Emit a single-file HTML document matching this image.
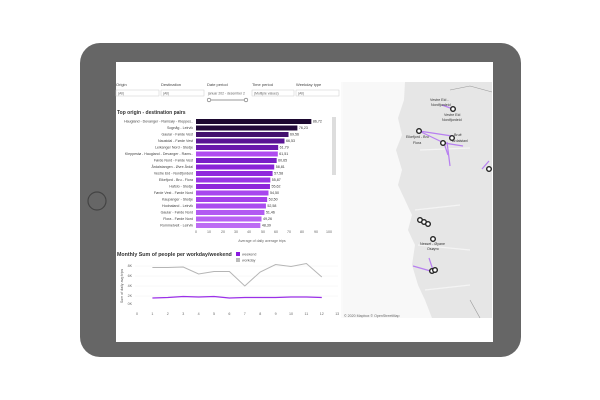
<!DOCTYPE html>
<html><head><meta charset="utf-8"><style>
html,body{margin:0;padding:0;background:#fff;}
svg{display:block;font-family:"Liberation Sans",sans-serif;}
</style></head><body>
<svg width="600" height="400" viewBox="0 0 600 400">
<rect x="80" y="43" width="441" height="314" rx="20" fill="#666"/>
<circle cx="97" cy="201" r="9" fill="none" stroke="#444" stroke-width="1.2"/>
<rect x="116" y="62" width="377" height="280" fill="#fff"/>
<!-- map -->
<rect x="343" y="82" width="149" height="236" fill="#f8f8f8"/>
<path d="M405,82 L492,82 L492,318 L432,318 L425,300 L418,285 L412,265 L415,245 L408,230 L412,215 L405,200 L398,185 L402,170 L396,150 L402,135 L398,118 L404,100 Z" fill="#e6e6e6"/>
<path d="M420,150 L470,148 M415,210 L460,205 M418,245 L470,250 M425,290 L470,285" stroke="#f4f4f4" stroke-width="1.2" fill="none"/>
<path d="M450,90 L470,86 L492,92 M470,300 L480,318" stroke="#999" stroke-width="0.6" fill="none"/>
<g stroke="#b77ff0" stroke-width="1.2" fill="none">
<line x1="442" y1="105" x2="453" y2="109"/>
<line x1="419" y1="131" x2="442" y2="142"/><line x1="419" y1="131" x2="452" y2="136"/>
<line x1="444" y1="143" x2="463" y2="146"/><line x1="447" y1="142" x2="450" y2="166"/><line x1="444" y1="143" x2="448" y2="155"/>
<line x1="482" y1="169" x2="489" y2="161"/>
<line x1="413" y1="266" x2="434" y2="272"/><line x1="429" y1="258" x2="433" y2="270"/>
</g>
<g fill="#fff" stroke="#222" stroke-width="1.4">
<circle cx="453" cy="109" r="2.3"/><circle cx="419" cy="131" r="2.3"/><circle cx="443" cy="143" r="2.3"/><circle cx="452" cy="138" r="2.3"/>
<circle cx="489" cy="169" r="2.3"/><circle cx="420" cy="220" r="2.3"/><circle cx="424" cy="222" r="2.3"/><circle cx="428" cy="224" r="2.3"/>
<circle cx="433" cy="239" r="2.3"/><circle cx="432" cy="271" r="2.3"/><circle cx="435" cy="270" r="2.3"/>
</g>
<g font-size="3.6" fill="#333">
<text x="430" y="101">Vestre Eid -</text><text x="431" y="106">Nordfjordeid</text>
<text x="444" y="116">Vestre Eid</text><text x="442" y="121">Nordfjordeid</text>
<text x="406" y="138">Eikefjord - Bru</text><text x="413" y="144">Flora</text>
<text x="454" y="136">Bruë</text><text x="452" y="142">Ardalstanl</text>
<text x="420" y="245">Nesset - Øyane</text><text x="427" y="250">Osøyro</text>
</g>
<text x="344" y="317" font-size="3.6" fill="#666">© 2020 Mapbox  © OpenStreetMap</text>
<!-- filters -->
<g font-size="4" fill="#444">
<text x="116" y="86">Origin</text><text x="161" y="86">Destination</text><text x="207" y="86">Date period</text><text x="252" y="86">Time period</text><text x="296" y="86">Weekday type</text>
</g>
<g fill="#fff" stroke="#ccc" stroke-width="0.5">
<rect x="116" y="90" width="43" height="6"/><rect x="161" y="90" width="43" height="6"/><rect x="252" y="90" width="42" height="6"/><rect x="296" y="90" width="43" height="6"/>
</g>
<g font-size="3.4" fill="#666">
<text x="118" y="94.5">(All)</text><text x="163" y="94.5">(All)</text><text x="208" y="94.5">januar 202 - desember 2</text><text x="254" y="94.5">(Multiple values)</text><text x="298" y="94.5">(All)</text>
</g>
<line x1="209" y1="100" x2="246" y2="100" stroke="#999" stroke-width="1"/>
<circle cx="209" cy="100" r="1.8" fill="#fff" stroke="#666" stroke-width="0.6"/><circle cx="246" cy="100" r="1.8" fill="#fff" stroke="#666" stroke-width="0.6"/>
<line x1="342" y1="82" x2="342" y2="318" stroke="#eee" stroke-width="0.6"/>
<!-- bar chart -->
<text x="117" y="114" font-size="5" font-weight="bold" fill="#333">Top origin - destination pairs</text>
<rect x="332" y="117" width="4" height="58" fill="#ddd"/>
<g id="bars" font-size="3.6"></g>
<g font-size="3.6" fill="#666" text-anchor="middle">
<text x="196" y="233">0</text><text x="209" y="233">10</text><text x="223" y="233">20</text><text x="236" y="233">30</text><text x="249" y="233">40</text><text x="263" y="233">50</text><text x="276" y="233">60</text><text x="289" y="233">70</text><text x="302" y="233">80</text><text x="316" y="233">90</text><text x="329" y="233">100</text>
<text x="262" y="242">Average of daily average trips</text>
</g>
<!-- line chart -->
<text x="117" y="256" font-size="5.3" font-weight="bold" fill="#333">Monthly Sum of people per workday/weekend</text>
<rect x="236" y="252" width="4" height="4" fill="#8a1be0"/><text x="242" y="255.5" font-size="3.6" fill="#555">weekend</text>
<rect x="236" y="258" width="4" height="4" fill="#bbb"/><text x="242" y="261.5" font-size="3.6" fill="#555">workday</text>
<text transform="translate(123,286) rotate(-90)" font-size="3.6" fill="#555" text-anchor="middle">Sum of daily avg trips</text>
<g font-size="3.6" fill="#666" text-anchor="end">
<text x="132" y="267">8K</text><text x="132" y="277">6K</text><text x="132" y="287">4K</text><text x="132" y="297">2K</text><text x="132" y="305">0K</text>
</g>
<g stroke="#f0f0f0" stroke-width="0.5"><line x1="135" y1="266" x2="338" y2="266"/><line x1="135" y1="276" x2="338" y2="276"/><line x1="135" y1="286" x2="338" y2="286"/><line x1="135" y1="296" x2="338" y2="296"/></g>
<g font-size="3.6" fill="#666" text-anchor="middle" id="xt"></g>
<polyline id="wd" fill="none" stroke="#b5b5b5" stroke-width="1"/>
<polyline id="we" fill="none" stroke="#9b30e8" stroke-width="1.3"/>
</svg>
<script>
var names=["Haugland - Devanger - Ramsøy - Kleppes..","Sogn&#229;g - Leirvik","Gaular - F&#248;rde Vest","Naustdal - F&#248;rde Vest","Leikanger Nord - Stedje","Kleppestø - Haugland - Devanger - Rams..","F&#248;rde Nord - F&#248;rde Vest","&#197;rdalstangen - Øvre &#197;rdal","Vestre Eid - Nordfjordeid","Eikefjord - Bru - Flora","Hafslo - Stedje","F&#248;rde Vest - F&#248;rde Nord","Kaupanger - Stedje","Hodnaland - Leirvik","Gaular - F&#248;rde Nord","Flora - F&#248;rde Nord","Rommetveit - Leirvik"];
var vals=[86.72,76.23,69.56,66.53,61.79,61.51,60.65,58.81,57.58,55.87,55.62,54.50,53.50,52.58,51.46,49.26,48.39];
var cols=["#1c0830","#220a3a","#43106e","#5a1494","#6a18ac","#b04cf0","#7a1ec8","#8a24d8","#9028dc","#9a34e4","#8e26da","#a846ee","#a440ea","#aa4cef","#b25af2","#b862f3","#bd6cf4"];
var g=document.getElementById("bars"),h="";
for(var i=0;i<17;i++){var y=119+i*6.5,w=vals[i]*1.33;
h+='<text x="193" y="'+(y+3.6)+'" text-anchor="end" fill="#444">'+names[i]+'</text>';
h+='<rect x="196" y="'+y+'" width="'+w+'" height="5" fill="'+cols[i]+'"/>';
h+='<text x="'+(197.5+w)+'" y="'+(y+3.6)+'" fill="#333">'+vals[i].toFixed(2).replace(".",",")+'</text>';}
g.innerHTML=h;
var xt="";for(var k=0;k<=13;k++)xt+='<text x="'+(137+k*15.4)+'" y="315">'+k+'</text>';
document.getElementById("xt").innerHTML=xt;
var wd=[7.7,7.7,7.8,6.4,6.9,6.9,4.0,6.8,8.3,7.9,8.5,5.8],we=[1.6,1.7,1.9,1.8,1.9,1.6,1.7,1.7,1.7,1.8,1.8,1.7];
function pts(a){return a.map(function(v,i){return (137+(i+1)*15.4)+","+(306-v*5)}).join(" ")}
document.getElementById("wd").setAttribute("points",pts(wd));
document.getElementById("we").setAttribute("points",pts(we));
</script>
</body></html>
